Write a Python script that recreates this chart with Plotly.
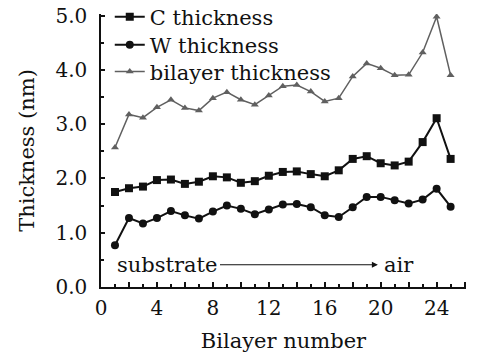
import plotly.graph_objects as go

bilayer = list(range(1, 26))
c_thickness = [1.75, 1.82, 1.85, 1.97, 1.98, 1.90, 1.94, 2.04, 2.02, 1.92, 1.95, 2.05, 2.12,
               2.13, 2.08, 2.04, 2.15, 2.36, 2.41, 2.28, 2.24, 2.31, 2.67, 3.11, 2.36]
w_thickness = [0.77, 1.27, 1.17, 1.27, 1.40, 1.32, 1.26, 1.39, 1.50, 1.44, 1.34, 1.43, 1.52,
               1.53, 1.47, 1.32, 1.29, 1.47, 1.66, 1.66, 1.60, 1.54, 1.61, 1.81, 1.48]
bl_thickness = [2.57, 3.18, 3.12, 3.31, 3.45, 3.30, 3.25, 3.48, 3.59, 3.45, 3.36, 3.53, 3.70,
                3.72, 3.60, 3.42, 3.48, 3.88, 4.12, 4.03, 3.90, 3.91, 4.32, 4.98, 3.90]
x_ticks = list(range(0, 27, 2))
x_labels = [str(v) if v % 4 == 0 and v <= 24 else "" for v in x_ticks]
y_ticks = [0.0, 1.0, 2.0, 3.0, 4.0, 5.0]

FONT = "DejaVu Serif"
INK = "#111111"
GREY = "#606060"
fig = go.Figure()
fig.add_trace(go.Scatter(x=bilayer, y=c_thickness, name="C thickness", mode="lines+markers",
                         legend="legend",
                         line=dict(color=INK, width=2),
                         marker=dict(symbol="square", size=8, color=INK)))
fig.add_trace(go.Scatter(x=bilayer, y=w_thickness, name="W thickness", mode="lines+markers",
                         legend="legend2",
                         line=dict(color=INK, width=2),
                         marker=dict(symbol="circle", size=8, color=INK)))
fig.add_trace(go.Scatter(x=bilayer, y=bl_thickness, name="bilayer thickness", mode="lines+markers",
                         legend="legend3",
                         line=dict(color=GREY, width=1.5),
                         marker=dict(symbol="triangle-up", size=7, color=GREY)))

fig.add_annotation(x=1, y=0.41, xref="x", yref="y", text="substrate", showarrow=False,
                   xanchor="left", yanchor="middle", font=dict(family=FONT, size=21, color=INK))
fig.add_annotation(x=20.1, y=0.41, xref="x", yref="y", text="air", showarrow=False,
                   xanchor="left", yanchor="middle", font=dict(family=FONT, size=21, color=INK))
fig.add_annotation(x=19.8, y=0.41, ax=8.4, ay=0.41, xref="x", yref="y", axref="x", ayref="y",
                   text="", showarrow=True, arrowhead=2, arrowsize=1, arrowwidth=1.2,
                   arrowcolor=INK)

def leg(yc):
    return dict(x=0.024, y=yc, xanchor="left", yanchor="middle", bgcolor="rgba(0,0,0,0)",
                font=dict(family=FONT, size=21, color=INK), itemwidth=30)

fig.update_layout(
    width=481, height=358,
    margin=dict(l=101, r=15, t=14, b=71, autoexpand=False),
    paper_bgcolor="white", plot_bgcolor="white",
    font=dict(family=FONT, size=20, color=INK),
    showlegend=True,
    legend=leg(0.989), legend2=leg(0.886), legend3=leg(0.788),
    xaxis=dict(range=[0, 26.1], tickvals=x_ticks, ticktext=x_labels, automargin=False,
               ticks="inside", ticklen=5, tickwidth=1.5, tickcolor=INK,
               minor=dict(dtick=1, ticks="inside", ticklen=3, tickcolor=INK, tick0=0),
               showline=True, linecolor=INK, linewidth=1.5, showgrid=False, zeroline=False,
               title=dict(text="Bilayer number", font=dict(family=FONT, size=21), standoff=15),
               tickfont=dict(family=FONT, size=20), ticklabelstandoff=2),
    yaxis=dict(range=[0, 5.03], tickvals=y_ticks, ticktext=[f"{v:.1f}" for v in y_ticks],
               automargin=False,
               ticks="inside", ticklen=4, tickwidth=1.5, tickcolor=INK,
               minor=dict(dtick=0.5, ticks="inside", ticklen=3, tickcolor=INK, tick0=0),
               showline=True, linecolor=INK, linewidth=1.5, showgrid=False, zeroline=False,
               title=dict(text="Thickness (nm)", font=dict(family=FONT, size=21)),
               tickfont=dict(family=FONT, size=20), ticklabelstandoff=8),
)

fig.write_html("out.html", config={"displayModeBar": False},
               post_script="document.body.style.margin='0';")
